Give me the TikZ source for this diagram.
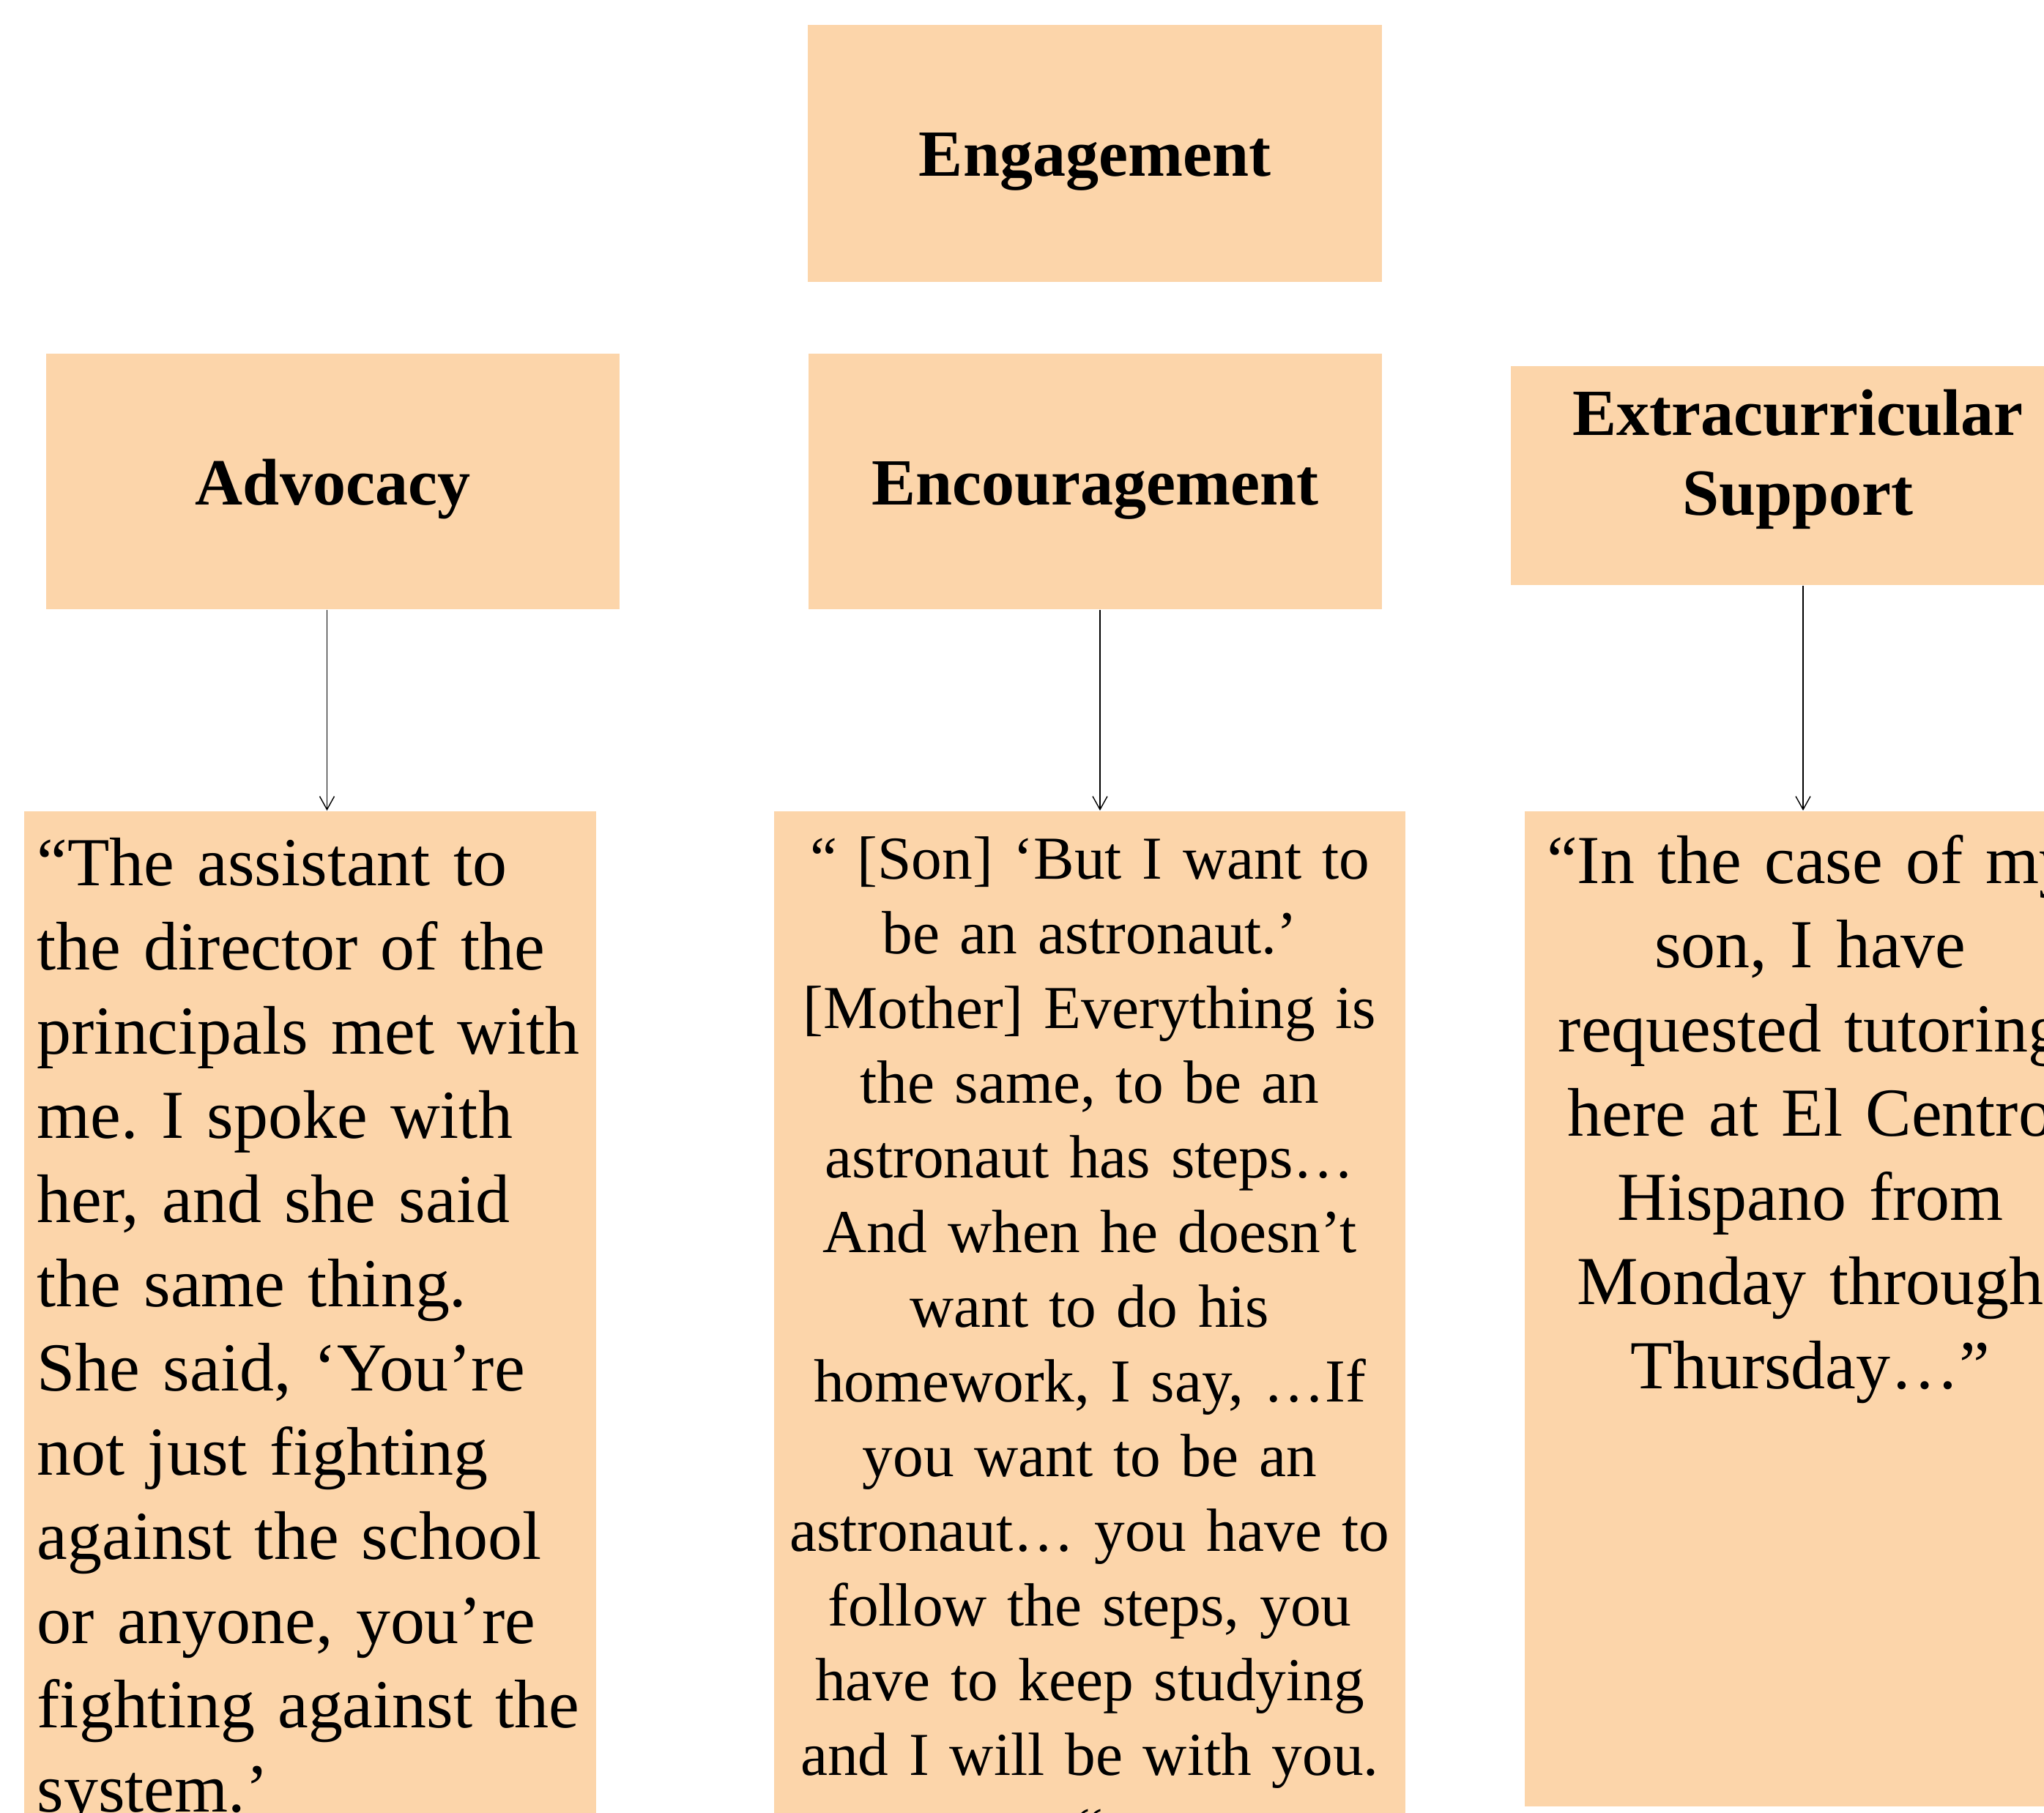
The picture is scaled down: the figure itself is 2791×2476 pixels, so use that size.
\documentclass[tikz,border=0pt]{standalone}
\usepackage{fontspec}
\setmainfont{Liberation Serif}
\usetikzlibrary{arrows.meta}
\definecolor{peach}{RGB}{252,213,170}

\begin{document}
\frenchspacing
\begin{tikzpicture}[
    x=0.01cm, y=-0.01cm,
    heading/.style={rectangle, fill=peach, minimum width=7.83cm, inner sep=0pt, align=center, font=\fontsize{25.6}{31}\selectfont\bfseries},
    quotebox/.style={rectangle, fill=peach, inner ysep=0pt, anchor=north west, text depth=14cm},
    connection/.style={-{Straight Barb[length=0.18cm,width=0.2cm]}, line width=0.4pt}
]
\useasboundingbox (0,0) rectangle (2791,2476);
\clip (0,0) rectangle (2791,2476);

% Headings
\node[heading, minimum height=3.51cm, text height=0.61cm, text depth=0cm] (engagement) at (1495,209.5) {Engagement};
\node[heading, minimum height=3.49cm, text height=0.63cm, text depth=0cm] (advocacy) at (454.5,657.5) {Advocacy};
\node[heading, minimum height=3.49cm, text height=0.63cm, text depth=0cm] (encouragement) at (1495.5,657.5) {Encouragement};
\node[heading, minimum height=2.99cm, text width=7.5cm, text height=0cm, text depth=1.09cm] (extracurricular) at (2455,649.5) {Extracurricular\\Support};

% Quotes
\node[quotebox, text width=7.45cm, inner xsep=0.18cm, align=left, text height=1.02cm, font=\fontsize{26.7}{32.7}\selectfont] (quote1) at (32,1107) {%
“The assistant to\\
the director of the\\
principals met with\\
me. I spoke with\\
her, and she said\\
the same thing.\\
She said, ‘You’re\\
not just fighting\\
against the school\\
or anyone, you’re\\
fighting against the\\
system.’};
\node[quotebox, text width=8.5cm, inner xsep=0.06cm, align=center, text height=0.93cm, font=\fontsize{23.7}{29}\selectfont] (quote2) at (1056,1107) {%
“ {[Son]} ‘But I want to\\
be an astronaut.’\\
{[Mother]} Everything is\\
the same, to be an\\
astronaut has steps…\\
And when he doesn’t\\
want to do his\\
homework, I say, …If\\
you want to be an\\
astronaut… you have to\\
follow the steps, you\\
have to keep studying\\
and I will be with you.\\
“};
\node[quotebox, text width=7.5cm, inner xsep=0.15cm, align=center, text height=0.99cm, text depth=12.59cm, font=\fontsize{26.7}{32.7}\selectfont] (quote3) at (2081,1107) {%
“In the case of my\\
son, I have\\
requested tutoring\\
here at El Centro\\
Hispano from\\
Monday through\\
Thursday…”};

% Heading to quote
\draw[connection] ([xshift=-0.08cm]advocacy.south) -- ([xshift=-0.08cm]advocacy.south |- quote1.north);
\draw[connection] ([xshift=0.065cm]encouragement.south) -- ([xshift=0.065cm]encouragement.south |- quote2.north);
\draw[connection] ([xshift=0.07cm]extracurricular.south) -- ([xshift=0.07cm]extracurricular.south |- quote3.north);

\end{tikzpicture}
\end{document}
